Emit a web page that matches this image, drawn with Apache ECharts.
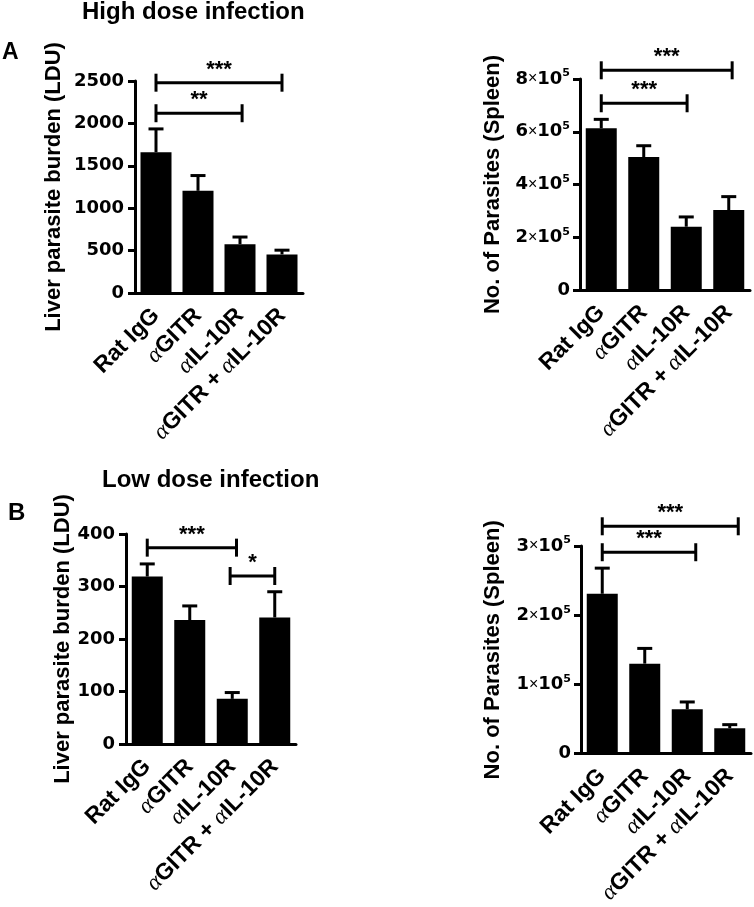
<!DOCTYPE html>
<html><head><meta charset="utf-8">
<script src="https://cdn.jsdelivr.net/npm/echarts@6/dist/echarts.min.js"></script>
<style>html,body{margin:0;padding:0;background:#fff}#c{width:754px;height:907px}</style>
</head><body><div id="c"></div>
<script>
// ---- data ----
const categories = ['Rat IgG', 'αGITR', 'αIL-10R', 'αGITR + αIL-10R'];

const highLiverMean = [1660, 1205, 575, 455];
const highLiverSem  = [275, 180, 85, 50];
const highSpleenMean = [613000, 504000, 240000, 303000];
const highSpleenSem  = [34000, 43000, 37000, 51000];
const lowLiverMean = [319, 236, 86, 241];
const lowLiverSem  = [24, 27, 12, 49];
const lowSpleenMean = [231000, 130000, 64000, 36600];
const lowSpleenSem  = [37000, 22000, 10600, 5200];

// significance brackets: [fromCategory, toCategory, yValue, label]
const highLiverSig  = [[0, 3, 2480, '***'], [0, 2.05, 2120, '**']];
const highSpleenSig = [[0, 3.08, 833000, '***'], [0, 2.02, 708000, '***']];
const lowLiverSig   = [[0, 2.1, 374, '***'], [1.95, 3, 320, '*']];
const lowSpleenSig  = [[0, 3.2, 328500, '***'], [0, 2.2, 291000, '***']];

const liverName = 'Liver parasite burden (LDU)';
const spleenName = 'No. of Parasites (Spleen)';

// ---- styling ----
const LAB = '"Liberation Sans", Arial, sans-serif';
const TICK = '"DejaVu Sans", sans-serif';

const grids = [
  {left: 135, top: 81, width: 168, height: 212},
  {left: 580, top: 79, width: 170, height: 211},
  {left: 126, top: 534, width: 170, height: 210},
  {left: 581, top: 546, width: 170, height: 211}
];

function catFormatter(v) { return v.replace(/α/g, '{a|α}'); }
function plainFormatter(v) { return String(v); }
function sciFormatter(v) {
  if (v === 0) return '{n|0}';
  return '{n|' + (v / 100000) + '}{x|×}{n|10}{s|5}';
}

const xAxes = [], yAxes = [], series = [];
const panels = [
  {mean: highLiverMean, sem: highLiverSem, sig: highLiverSig, max: 2500, interval: 500, sci: false, name: liverName, gap: 70},
  {mean: highSpleenMean, sem: highSpleenSem, sig: highSpleenSig, max: 800000, interval: 200000, sci: true, name: spleenName, gap: 76},
  {mean: lowLiverMean, sem: lowLiverSem, sig: lowLiverSig, max: 400, interval: 100, sci: false, name: liverName, gap: 52},
  {mean: lowSpleenMean, sem: lowSpleenSem, sig: lowSpleenSig, max: 300000, interval: 100000, sci: true, name: spleenName, gap: 77}
];

panels.forEach((p, i) => {
  xAxes.push({
    gridIndex: i, type: 'category', data: categories,
    axisLine: {lineStyle: {color: '#000', width: 3}},
    axisTick: {alignWithLabel: true, length: 6, lineStyle: {color: '#000', width: 3}},
    axisLabel: {
      interval: 0, rotate: 45, margin: 19, color: '#000',
      fontFamily: LAB, fontWeight: 'bold', fontSize: 23,
      formatter: catFormatter,
      rich: {a: {fontFamily: '"Liberation Serif", serif', fontStyle: 'italic', fontWeight: 'normal', fontSize: 23, color: '#000'}}
    }
  });
  yAxes.push({
    gridIndex: i, type: 'value', min: 0, max: p.max, interval: p.interval,
    splitLine: {show: false},
    axisLine: {show: true, lineStyle: {color: '#000', width: 3}},
    axisTick: {show: true, length: 7, lineStyle: {color: '#000', width: 3}},
    axisLabel: p.sci ? {
      margin: 10, color: '#000', formatter: sciFormatter,
      rich: {
        n: {fontFamily: TICK, fontWeight: 'bold', fontSize: 18, color: '#000', lineHeight: 22},
        x: {fontFamily: LAB, fontWeight: 'normal', fontSize: 16, color: '#000'},
        s: {fontFamily: TICK, fontWeight: 'bold', fontSize: 11, color: '#000', verticalAlign: 'top', lineHeight: 12}
      }
    } : {margin: 11, color: '#000', fontFamily: TICK, fontWeight: 'bold', fontSize: 18, formatter: plainFormatter},
    name: p.name, nameLocation: 'middle', nameGap: p.gap,
    nameTextStyle: {fontFamily: LAB, fontWeight: 'bold', fontSize: 22, color: '#000'}
  });
  series.push({
    type: 'bar', xAxisIndex: i, yAxisIndex: i, data: p.mean,
    barWidth: 31, itemStyle: {color: '#000'}, silent: true, z: 2
  });
  series.push({
    type: 'custom', xAxisIndex: i, yAxisIndex: i, z: 1,
    data: p.mean.map((m, k) => [k, m, m + p.sem[k]]),
    encode: {x: 0, y: [1, 2]},
    renderItem: function (params, api) {
      const b = api.coord([api.value(0), api.value(1)]);
      const t = api.coord([api.value(0), api.value(2)]);
      return {type: 'group', children: [
        {type: 'line', shape: {x1: b[0], y1: b[1], x2: t[0], y2: t[1]}, style: {stroke: '#000', lineWidth: 3}},
        {type: 'line', shape: {x1: t[0] - 7.5, y1: t[1], x2: t[0] + 7.5, y2: t[1]}, style: {stroke: '#000', lineWidth: 3}}
      ]};
    }
  });
  series.push({
    type: 'custom', xAxisIndex: i, yAxisIndex: i, z: 3,
    data: p.sig.map(s => [0, s[0], s[1], s[2]]),
    encode: {x: 0, y: 3},
    renderItem: function (params, api) {
      const s = p.sig[params.dataIndex];
      const base = api.coord([0, s[2]]);
      const band = api.size([1, 0])[0];
      const x1 = base[0] + s[0] * band, x2 = base[0] + s[1] * band, y = base[1];
      return {type: 'group', children: [
        {type: 'line', shape: {x1: x1, y1: y, x2: x2, y2: y}, style: {stroke: '#000', lineWidth: 3}},
        {type: 'line', shape: {x1: x1, y1: y - 9, x2: x1, y2: y + 9}, style: {stroke: '#000', lineWidth: 3}},
        {type: 'line', shape: {x1: x2, y1: y - 9, x2: x2, y2: y + 9}, style: {stroke: '#000', lineWidth: 3}},
        {type: 'text', style: {text: s[3], x: (x1 + x2) / 2, y: y - 2, align: 'center', verticalAlign: 'bottom',
          fontFamily: LAB, fontWeight: 'bold', fontSize: 22, fill: '#000'}}
      ]};
    }
  });
});

const titleStyle = {fontFamily: LAB, fontWeight: 'bold', color: '#000'};
const option = {
  animation: false,
  backgroundColor: '#fff',
  title: [
    {text: 'High dose infection', left: 82, top: 0, padding: 0, textStyle: Object.assign({fontSize: 24}, titleStyle)},
    {text: 'A', left: 2, top: 41, padding: 0, textStyle: Object.assign({fontSize: 23}, titleStyle)},
    {text: 'Low dose infection', left: 102, top: 468, padding: 0, textStyle: Object.assign({fontSize: 24}, titleStyle)},
    {text: 'B', left: 8, top: 501, padding: 0, textStyle: Object.assign({fontSize: 24}, titleStyle)}
  ],
  grid: grids,
  xAxis: xAxes,
  yAxis: yAxes,
  series: series
};
const chart = echarts.init(document.getElementById('c'), null, {renderer: 'canvas'});
chart.setOption(option);
</script>
</body></html>
